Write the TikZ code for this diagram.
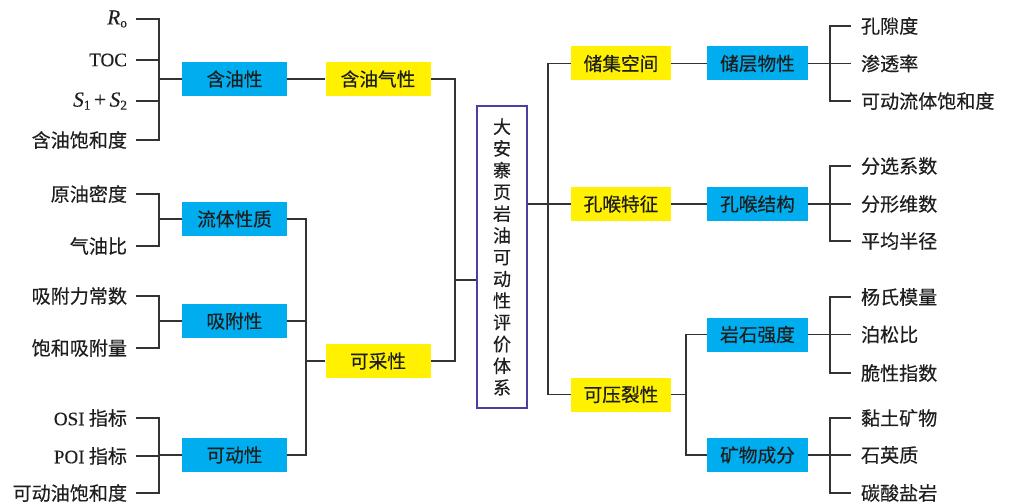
\documentclass[tikz,border=0pt]{standalone}
\usepackage{fontspec}
\setmainfont{Liberation Serif}
\newfontfamily\cjk[FakeBold=0.35]{Noto Sans CJK SC}
\newfontfamily\latf[FakeBold=0.3]{Liberation Serif}
\definecolor{boxblue}{HTML}{00AEEF}
\definecolor{boxyellow}{HTML}{FFF100}
\definecolor{linegray}{HTML}{333333}
\definecolor{textc}{HTML}{1E1E1E}
\definecolor{framec}{HTML}{4B3FA0}
\newcommand{\latsub}[1]{\raisebox{-0.3ex}{\fontsize{10}{11}\selectfont\upshape #1}}
\begin{document}
\begin{tikzpicture}[x=0.75pt,y=-0.75pt,
  conn/.style={draw=linegray, line width=1.1pt},
  basebox/.style={minimum height=25.5pt, inner sep=0pt, text=textc, font=\cjk\fontsize{14}{16}\selectfont},
  bluebox/.style={basebox, fill=boxblue, minimum width=78.75pt},
  yellowbox/.style={basebox, fill=boxyellow, minimum width=78.75pt},
  rbluebox/.style={basebox, fill=boxblue, minimum width=75.75pt},
  ryellowbox/.style={basebox, fill=boxyellow, minimum width=75pt},
  leafL/.style={anchor=east, inner xsep=0pt, outer xsep=6.75pt, inner ysep=2pt, text=textc, font=\cjk\fontsize{14.3}{16}\selectfont},
  leafR/.style={anchor=west, inner xsep=0pt, outer xsep=7.5pt, inner ysep=2pt, text=textc, font=\cjk\fontsize{14.3}{16}\selectfont},
  mainbox/.style={draw=framec, line width=1.2pt, fill=white, minimum width=37.5pt, minimum height=226.5pt, inner sep=0pt, align=center, text=textc, font=\cjk\fontsize{13.5}{16.3}\selectfont}
]
\useasboundingbox (0,0) rectangle (1020,503);

% central box
\node[mainbox] (main) at (502,257) {大\\安\\寨\\页\\岩\\油\\可\\动\\性\\评\\价\\体\\系};

% left leaves
\node[leafL] (l1) at (136,19) {\latf\fontsize{16}{18}\selectfont\itshape R\latsub{o}};
\node[leafL] (l2) at (136,60) {\latf TOC};
\node[leafL] (l3) at (136,101) {\latf\fontsize{16}{18}\selectfont\itshape S\latsub{1}\,\upshape +\,\itshape S\latsub{2}};
\node[leafL] (l4) at (136,140) {含油饱和度};
\node[leafL] (l5) at (136,194) {原油密度};
\node[leafL] (l6) at (136,246) {气油比};
\node[leafL] (l7) at (136,296) {吸附力常数};
\node[leafL] (l8) at (136,348) {饱和吸附量};
\node[leafL] (l9) at (136,418) {{\latf OSI} 指标};
\node[leafL] (l10) at (136,456) {{\latf POI} 指标};
\node[leafL] (l11) at (136,493) {可动油饱和度};

% left boxes
\node[bluebox] (hyx) at (234.5,79) {含油性};
\node[yellowbox] (hyqx) at (378,79) {含油气性};
\node[bluebox] (ltxz) at (234.5,219) {流体性质};
\node[bluebox] (xfx) at (234.5,321) {吸附性};
\node[bluebox] (kdx) at (234.5,455) {可动性};
\node[yellowbox] (kcx) at (378,361) {可采性};

% left junctions
\coordinate (jA) at (159,79);
\coordinate (jB) at (159,219);
\coordinate (jC) at (159,321);
\coordinate (jD) at (159,455);
\coordinate (jK) at (306,361);
\coordinate (jM) at (455,280);

\foreach \n in {l1,l2,l3,l4} \draw[conn] (\n.east) -| (jA);
\draw[conn] (jA) -- (hyx.west);
\foreach \n in {l5,l6} \draw[conn] (\n.east) -| (jB);
\draw[conn] (jB) -- (ltxz.west);
\foreach \n in {l7,l8} \draw[conn] (\n.east) -| (jC);
\draw[conn] (jC) -- (xfx.west);
\foreach \n in {l9,l10,l11} \draw[conn] (\n.east) -| (jD);
\draw[conn] (jD) -- (kdx.west);
\draw[conn] (hyx.east) -- (hyqx.west);
\foreach \n in {ltxz,xfx,kdx} \draw[conn] (\n.east) -| (jK);
\draw[conn] (jK) -- (kcx.west);
\draw[conn] (hyqx.east) -| (jM);
\draw[conn] (kcx.east) -| (jM);
\draw[conn] (jM) -- (jM -| main.west);

% right boxes
\node[ryellowbox] (cjkj) at (621,63.5) {储集空间};
\node[rbluebox] (ccwx) at (757.5,63.5) {储层物性};
\node[ryellowbox] (khtz) at (621,204) {孔喉特征};
\node[rbluebox] (khjg) at (757.5,204) {孔喉结构};
\node[ryellowbox] (kylx) at (621,394.5) {可压裂性};
\node[rbluebox] (ysqd) at (757.5,334.5) {岩石强度};
\node[rbluebox] (kwcf) at (757.5,455) {矿物成分};

% right leaves
\node[leafR] (r1) at (851,26) {孔隙度};
\node[leafR] (r2) at (851,63.5) {渗透率};
\node[leafR] (r3) at (851,101) {可动流体饱和度};
\node[leafR] (r4) at (851,166) {分选系数};
\node[leafR] (r5) at (851,204) {分形维数};
\node[leafR] (r6) at (851,241) {平均半径};
\node[leafR] (r7) at (851,297) {杨氏模量};
\node[leafR] (r8) at (851,334.5) {泊松比};
\node[leafR] (r9) at (851,373) {脆性指数};
\node[leafR] (r10) at (851,418) {黏土矿物};
\node[leafR] (r11) at (851,455) {石英质};
\node[leafR] (r12) at (851,493) {碳酸盐岩};

% right junctions
\coordinate (jR) at (548,204);
\coordinate (jY) at (686,394.5);
\coordinate (j1) at (830,63.5);
\coordinate (j2) at (830,204);
\coordinate (j3) at (830,334.5);
\coordinate (j4) at (830,455);

\draw[conn] (main.east |- jR) -- (jR);
\draw[conn] (jR) |- (cjkj.west);
\draw[conn] (jR) -- (khtz.west);
\draw[conn] (jR) |- (kylx.west);
\draw[conn] (cjkj.east) -- (ccwx.west);
\draw[conn] (khtz.east) -- (khjg.west);
\draw[conn] (kylx.east) -- (jY);
\draw[conn] (jY) |- (ysqd.west);
\draw[conn] (jY) |- (kwcf.west);
\draw[conn] (ccwx.east) -- (j1);
\foreach \n in {r1,r2,r3} \draw[conn] (j1) |- (\n.west);
\draw[conn] (khjg.east) -- (j2);
\foreach \n in {r4,r5,r6} \draw[conn] (j2) |- (\n.west);
\draw[conn] (ysqd.east) -- (j3);
\foreach \n in {r7,r8,r9} \draw[conn] (j3) |- (\n.west);
\draw[conn] (kwcf.east) -- (j4);
\foreach \n in {r10,r11,r12} \draw[conn] (j4) |- (\n.west);
\end{tikzpicture}
\end{document}
